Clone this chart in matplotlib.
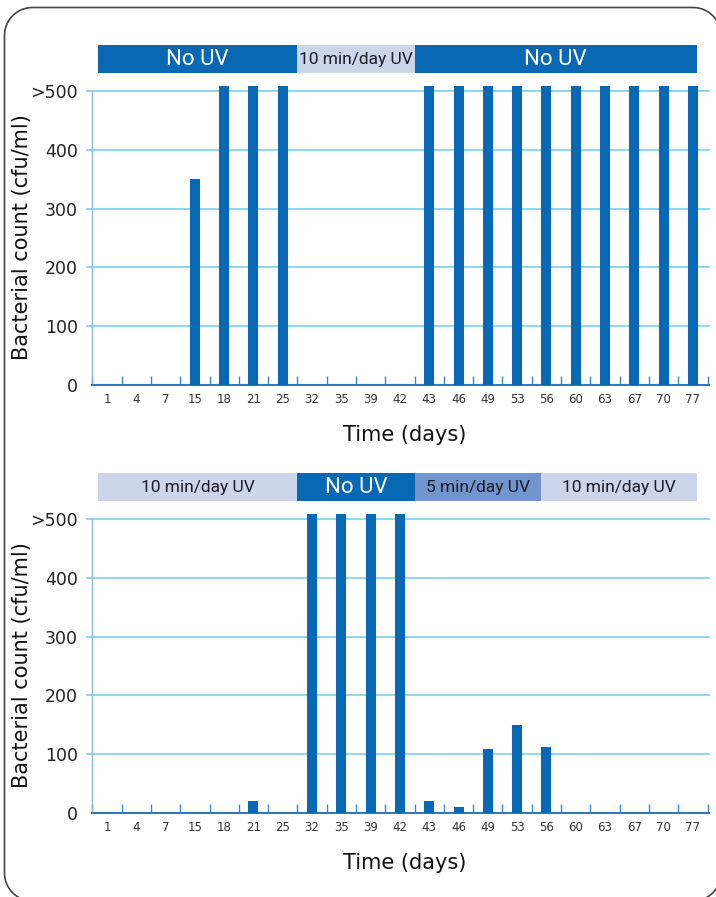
import matplotlib
matplotlib.use('Agg')
import matplotlib.pyplot as plt
from matplotlib.patches import Rectangle
from matplotlib.lines import Line2D
from matplotlib.transforms import IdentityTransform
import numpy as np

plt.rcParams['font.family'] = ['DejaVu Sans']

# 数据
days = ['1', '4', '7', '15', '18', '21', '25', '32', '35', '39', '42',
        '43', '46', '49', '53', '56', '60', '63', '67', '70', '77']
count_top = [0, 0, 0, 350, 508, 508, 508, 0, 0, 0, 0,
             508, 508, 508, 508, 508, 508, 508, 508, 508, 508]
count_bottom = [0, 0, 0, 0, 0, 20, 0, 508, 508, 508, 508,
                20, 10, 109, 150, 112, 0, 0, 0, 0, 0]

y_ticks = [0, 100, 200, 300, 400, 500]
y_labels = ['0', '100', '200', '300', '400', '>500']

# UV 处理阶段 (类别索引边界)
phase_top = ['No UV', '10 min/day UV', 'No UV']
edges_top = [-0.31, 6.5, 10.5, 20.14]
phase_bottom = ['10 min/day UV', 'No UV', '5 min/day UV', '10 min/day UV']
edges_bottom = [-0.31, 6.5, 10.5, 14.81, 20.14]

BAR = '#0868b4'
phase_style = {
    'No UV': ('#0868b4', 'white', 16),
    '10 min/day UV': ('#cdd5eb', '#1b1b2a', 12.5),
    '5 min/day UV': ('#7395cd', '#1b1b2a', 12.5),
}
narrow = ['Roboto', 'DejaVu Sans']

W, H = 716, 897
fig = plt.figure(figsize=(W / 100, H / 100), dpi=100)

# 圆角边框, 像素坐标 (右侧和底部在画布外)
x0, x1, y0, y1, r = 4.5, 721, -4, 889.5, 28
bx, by = [], []
for cx, cy, a0 in [(x1 - r, y1 - r, 0), (x0 + r, y1 - r, 90),
                   (x0 + r, y0 + r, 180), (x1 - r, y0 + r, 270)]:
    t = np.radians(np.linspace(a0, a0 + 90, 20))
    bx.extend(cx + r * np.cos(t))
    by.extend(cy + r * np.sin(t))
bx.append(bx[0])
by.append(by[0])
fig.add_artist(Line2D(bx, by, transform=IdentityTransform(), color='#444444',
                      linewidth=1.2))

x = np.arange(len(days))


def draw_panel(base_px, values, phases, edges):
    ax = fig.add_axes([92 / W, (H - base_px) / H, 617 / W, 300 / H])
    ax.bar(x, values, width=0.34, color=BAR, zorder=3)
    ax.set_xlim(-0.512, 20.55)
    ax.set_ylim(0, 510)

    for s in ['top', 'right']:
        ax.spines[s].set_visible(False)
    ax.spines['bottom'].set_color('#2f78c0')
    ax.spines['bottom'].set_linewidth(1.5)
    ax.spines['left'].set_color('#8ab6e2')
    ax.spines['left'].set_linewidth(1)
    ax.spines['left'].set_bounds(0, 500)

    for yv in y_ticks[1:]:
        ax.axhline(yv, xmin=-0.008, xmax=1, color='#86d3f0', linewidth=1.3,
                   clip_on=False, zorder=1)

    ax.set_xticks(x)
    ax.set_xticklabels(days, fontsize=8.5, color='#333333')
    ax.tick_params(axis='x', which='major', length=0, pad=6)
    ax.set_xticks(np.arange(-0.5, 21, 1.0), minor=True)
    ax.tick_params(axis='x', which='minor', direction='in', length=6.5,
                   width=1, color='#3d85c6')

    ax.set_yticks(y_ticks)
    ax.set_yticklabels(y_labels, fontsize=12.5, color='#222222')
    ax.tick_params(axis='y', length=0, pad=10)

    tr = ax.get_xaxis_transform()
    for i, name in enumerate(phases):
        fc, tc, fs = phase_style[name]
        e0, e1 = edges[i], edges[i + 1]
        ax.add_patch(Rectangle((e0, 1.04), e1 - e0, 0.093, transform=tr,
                               facecolor=fc, edgecolor='none', clip_on=False))
        ax.text((e0 + e1) / 2, 1.086, name, transform=tr, ha='center', va='center',
                fontsize=fs, color=tc, family=narrow)

    fig.text(22 / W, 1 - (base_px - 148) / H, 'Bacterial count (cfu/ml)',
             rotation=90, ha='center', va='center', fontsize=15, color='#111111')
    fig.text(405 / W, 1 - (base_px + 50) / H, 'Time (days)', ha='center',
             va='center', fontsize=15, color='#111111')
    return ax


draw_panel(385, count_top, phase_top, edges_top)
draw_panel(813, count_bottom, phase_bottom, edges_bottom)

plt.savefig('out.png', dpi=100)
